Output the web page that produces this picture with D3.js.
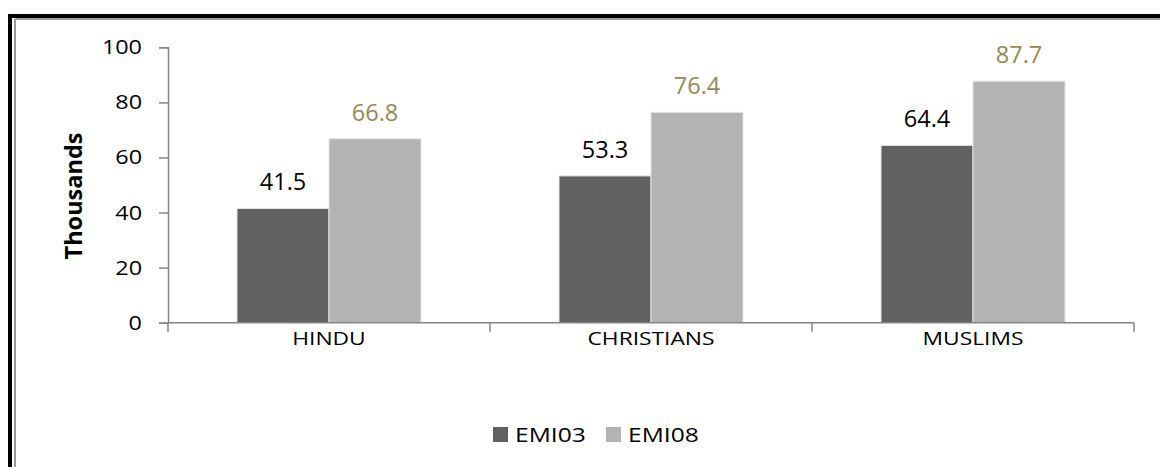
<!DOCTYPE html>
<html><head><meta charset="utf-8">
<script src="https://cdn.jsdelivr.net/npm/d3@7"></script>
<style>body{margin:0;background:#fff}svg{display:block}</style>
</head><body>
<svg id="c" width="1160" height="467"></svg>
<script>
const categories = ["HINDU", "CHRISTIANS", "MUSLIMS"];
const seriesNames = ["EMI03", "EMI08"];
const emi03 = [41.5, 53.3, 64.4];
const emi08 = [66.8, 76.4, 87.7];
const yTicks = [0, 20, 40, 60, 80, 100];
const colors = ["#616161", "#b3b3b3"];
const labelColors = ["#000000", "#948a54"];
const FONT = "'Open Sans', sans-serif";
const SX = 1.2; // horizontal stretch of the original text

const svg = d3.select("#c");
// frame
svg.append("rect").attr("x", 10).attr("y", 16).attr("width", 1300).attr("height", 600)
  .attr("fill", "none").attr("stroke", "#000").attr("stroke-width", 4);
svg.append("line").attr("x1", 15).attr("x2", 1300).attr("y1", 19).attr("y2", 19).attr("stroke", "#9a9a9a").attr("stroke-width", 2);
svg.append("line").attr("x1", 15).attr("x2", 15).attr("y1", 19).attr("y2", 600).attr("stroke", "#9a9a9a").attr("stroke-width", 2);

const pLeft = 168, pRight = 1134, pTop = 47.3, pBottom = 322.7;
const y = d3.scaleLinear().domain([0, 100]).range([pBottom, pTop]);
const x0 = d3.scaleBand().domain(categories).range([pLeft, pRight]).paddingInner(0.4286).paddingOuter(0.2143);
const x1 = d3.scaleBand().domain(seriesNames).range([0, x0.bandwidth()]);

const data = categories.map((c, i) => ({cat: c, vals: [emi03[i], emi08[i]]}));

// y axis
const yAxis = svg.append("g").attr("transform", `translate(${pLeft},0)`)
  .call(d3.axisLeft(y).tickValues(yTicks).tickSize(9).tickFormat(""));
yAxis.select(".domain").attr("stroke", "#868686").attr("stroke-width", 1.5);
yAxis.selectAll(".tick line").attr("stroke", "#868686").attr("stroke-width", 1.5);
svg.append("g").selectAll("text").data(yTicks).join("text")
  .attr("transform", d => `translate(${pLeft - 26},${y(d) + 7}) scale(${SX},1)`)
  .attr("text-anchor", "end")
  .attr("font-family", FONT).attr("font-size", 19.5).attr("fill", "#000")
  .text(d3.format("d"));

// bars
const g = svg.append("g").selectAll("g").data(data).join("g")
  .attr("transform", d => `translate(${x0(d.cat)},0)`);
g.selectAll("rect").data(d => d.vals.map((v, j) => ({v, j}))).join("rect")
  .attr("x", d => x1(seriesNames[d.j]))
  .attr("y", d => y(d.v))
  .attr("width", x1.bandwidth())
  .attr("height", d => y(0) - y(d.v))
  .attr("fill", d => colors[d.j])
  .attr("stroke", "#e6e6e6").attr("stroke-width", 1);
g.selectAll("text").data(d => d.vals.map((v, j) => ({v, j}))).join("text")
  .attr("x", d => x1(seriesNames[d.j]) + x1.bandwidth() / 2)
  .attr("y", d => y(d.v) - 18)
  .attr("text-anchor", "middle")
  .attr("font-family", FONT).attr("font-size", 23.5)
  .attr("fill", d => labelColors[d.j])
  .text(d => d3.format(".1f")(d.v));

// x axis
const xOuter = d3.scalePoint().domain(d3.range(categories.length + 1)).range([pLeft, pRight]);
const xAxisG = svg.append("g").attr("transform", `translate(0,${pBottom})`);
xAxisG.append("line").attr("x1", pLeft).attr("x2", pRight).attr("stroke", "#868686").attr("stroke-width", 1.5);
xAxisG.selectAll("line.tk").data(xOuter.domain()).join("line").attr("class", "tk")
  .attr("x1", d => xOuter(d)).attr("x2", d => xOuter(d)).attr("y1", 0).attr("y2", 9)
  .attr("stroke", "#868686").attr("stroke-width", 1.5);
xAxisG.selectAll("text").data(categories).join("text")
  .attr("transform", d => `translate(${x0(d) + x0.bandwidth() / 2},22) scale(${SX},1)`)
  .attr("text-anchor", "middle")
  .attr("font-family", FONT).attr("font-size", 19).attr("fill", "#000")
  .text(d => d);

// y title
svg.append("text").attr("transform", "translate(82,196) rotate(-90)")
  .attr("text-anchor", "middle")
  .attr("font-family", FONT).attr("font-size", 23.5).attr("font-weight", "bold")
  .text("Thousands");

// legend
const lg = svg.append("g").selectAll("g").data(seriesNames).join("g")
  .attr("transform", (d, i) => `translate(${493 + i * 113},427)`);
lg.append("rect").attr("width", 15).attr("height", 15).attr("fill", (d, i) => colors[i]);
lg.append("text").attr("transform", `translate(22,15) scale(${SX},1)`)
  .attr("font-family", FONT).attr("font-size", 20.5).attr("fill", "#000")
  .text(d => d);
</script>
</body></html>
